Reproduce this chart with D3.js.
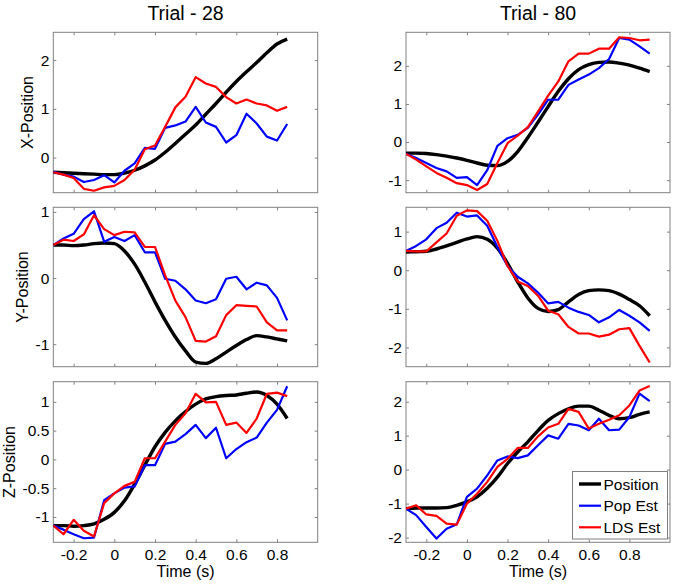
<!DOCTYPE html>
<html>
<head>
<meta charset="utf-8">
<script src="https://cdn.jsdelivr.net/npm/d3@7/dist/d3.min.js"></script>
<style>
  html, body { margin: 0; padding: 0; background: #fff; }
  svg text { font-family: "Liberation Sans", Arial, sans-serif; fill: #000; }
</style>
</head>
<body>
<svg id="chart" width="675" height="585"></svg>
<script>
// ---------- DATA ----------
const trialTitles = ["Trial - 28", "Trial - 80"];
const rowLabels = ["X-Position", "Y-Position", "Z-Position"];
const seriesNames = ["Position", "Pop Est", "LDS Est"];
const seriesColors = ["#000000", "#0000ff", "#ff0000"];

const time28 = [-0.3,-0.25,-0.2,-0.15,-0.1,-0.05,0,0.05,0.1,0.15,0.2,0.25,0.3,0.35,0.4,0.45,0.5,0.55,0.6,0.65,0.7,0.75,0.8,0.85];
const time80 = [-0.3,-0.25,-0.2,-0.15,-0.1,-0.05,0,0.05,0.1,0.15,0.2,0.25,0.3,0.35,0.4,0.45,0.5,0.55,0.6,0.65,0.7,0.75,0.8,0.85,0.9];

const x28Position = [-0.30,-0.31,-0.32,-0.33,-0.34,-0.35,-0.35,-0.32,-0.26,-0.17,-0.05,0.11,0.29,0.48,0.67,0.89,1.11,1.34,1.56,1.76,1.95,2.15,2.33,2.43];
const x28Pop = [-0.29,-0.35,-0.39,-0.50,-0.46,-0.36,-0.51,-0.27,-0.12,0.20,0.18,0.61,0.66,0.74,1.04,0.72,0.63,0.31,0.46,0.90,0.70,0.43,0.35,0.69];
const x28Lds = [-0.30,-0.35,-0.42,-0.64,-0.68,-0.61,-0.58,-0.46,-0.25,0.17,0.25,0.63,1.03,1.25,1.65,1.52,1.45,1.24,1.11,1.19,1.11,1.07,0.96,1.04];

const y28Position = [0.50,0.50,0.49,0.50,0.52,0.53,0.52,0.41,0.21,-0.06,-0.36,-0.64,-0.89,-1.10,-1.27,-1.29,-1.22,-1.12,-1.02,-0.93,-0.87,-0.89,-0.92,-0.95];
const y28Pop = [0.50,0.60,0.67,0.89,1.01,0.55,0.62,0.56,0.65,0.39,0.39,-0.01,-0.04,-0.17,-0.34,-0.38,-0.32,-0.01,0.02,-0.17,-0.07,-0.11,-0.30,-0.64];
const y28Lds = [0.50,0.58,0.56,0.66,0.95,0.74,0.65,0.70,0.69,0.47,0.47,0.04,-0.34,-0.59,-0.95,-0.96,-0.88,-0.56,-0.41,-0.42,-0.43,-0.67,-0.79,-0.79];

const z28Position = [-1.15,-1.15,-1.16,-1.15,-1.12,-1.04,-0.92,-0.72,-0.43,-0.10,0.22,0.47,0.67,0.83,0.96,1.05,1.09,1.11,1.12,1.15,1.17,1.11,0.96,0.71];
const z28Pop = [-1.15,-1.22,-1.30,-1.37,-1.36,-0.71,-0.59,-0.49,-0.47,-0.10,-0.10,0.27,0.31,0.44,0.60,0.37,0.55,0.02,0.18,0.30,0.38,0.64,0.86,1.27];
const z28Lds = [-1.15,-1.30,-1.05,-1.24,-1.34,-0.76,-0.59,-0.46,-0.39,0.02,0.02,0.31,0.60,0.80,1.14,0.99,1.00,0.60,0.64,0.46,0.71,1.14,1.16,1.10];

const x80Position = [-0.29,-0.29,-0.30,-0.33,-0.37,-0.42,-0.48,-0.55,-0.61,-0.62,-0.51,-0.25,0.12,0.52,0.93,1.33,1.66,1.90,2.03,2.09,2.10,2.07,2.02,1.94,1.85];
const x80Pop = [-0.31,-0.42,-0.55,-0.68,-0.77,-0.94,-0.92,-1.13,-0.74,-0.10,0.10,0.19,0.37,0.72,1.11,1.11,1.50,1.64,1.77,1.94,2.18,2.73,2.69,2.51,2.32];
const x80Lds = [-0.31,-0.46,-0.64,-0.81,-0.94,-1.08,-1.13,-1.26,-1.10,-0.55,-0.03,0.17,0.39,0.80,1.22,1.59,2.12,2.32,2.32,2.45,2.45,2.75,2.73,2.67,2.69];

const y80Position = [0.47,0.48,0.49,0.55,0.63,0.72,0.81,0.87,0.80,0.57,0.18,-0.30,-0.72,-0.99,-1.07,-1.02,-0.82,-0.63,-0.53,-0.51,-0.53,-0.62,-0.76,-0.92,-1.18];
const y80Pop = [0.50,0.63,0.80,1.09,1.23,1.49,1.39,1.42,1.15,0.60,0.11,-0.17,-0.34,-0.58,-0.86,-0.82,-0.97,-1.08,-1.16,-1.35,-1.22,-1.03,-1.18,-1.35,-1.57];
const y80Lds = [0.50,0.49,0.49,0.72,0.95,1.41,1.55,1.53,1.28,0.76,0.11,-0.29,-0.41,-0.66,-1.05,-1.14,-1.47,-1.64,-1.64,-1.72,-1.67,-1.53,-1.50,-1.96,-2.39];

const z80Position = [-1.15,-1.13,-1.13,-1.13,-1.12,-1.05,-0.95,-0.80,-0.55,-0.22,0.18,0.52,0.82,1.15,1.45,1.65,1.79,1.87,1.87,1.75,1.60,1.50,1.53,1.63,1.70];
const z80Pop = [-1.15,-1.34,-1.69,-2.03,-1.74,-1.61,-0.80,-0.56,-0.17,0.27,0.39,0.34,0.42,0.72,1.01,0.91,1.35,1.30,1.16,1.50,1.16,1.18,1.55,2.24,2.02];
const z80Lds = [-1.15,-1.05,-1.32,-1.36,-1.59,-1.62,-1.00,-0.71,-0.36,0.08,0.32,0.64,0.64,0.98,1.24,1.35,1.79,1.70,1.21,1.35,1.47,1.60,1.89,2.33,2.46];

// axis limits and ticks
const timeLimits = [-0.3, 1.0];
const timeTicks = [-0.2, 0, 0.2, 0.4, 0.6, 0.8];
const x28Limits = [-0.72, 2.57], x28Ticks = [0, 1, 2];
const y28Limits = [-1.34, 1.07], y28Ticks = [-1, 0, 1];
const z28Limits = [-1.44, 1.35], z28Ticks = [-1, -0.5, 0, 0.5, 1];
const x80Limits = [-1.33, 2.88], x80Ticks = [-1, 0, 1, 2];
const y80Limits = [-2.50, 1.63], y80Ticks = [-2, -1, 0, 1];
const z80Limits = [-2.14, 2.59], z80Ticks = [-2, -1, 0, 1, 2];

// ---------- LAYOUT ----------
const colX = [[53.3, 317.7], [406, 670]];
const rowY = [[32.3, 192.7], [207.3, 366.7], [381.7, 542.3]];
const frameColor = "#808080";
const tickFont = 15.5;

const panels = [
  {r:0,c:0,t:time28,s:[x28Position,x28Pop,x28Lds],lim:x28Limits,ticks:x28Ticks},
  {r:1,c:0,t:time28,s:[y28Position,y28Pop,y28Lds],lim:y28Limits,ticks:y28Ticks},
  {r:2,c:0,t:time28,s:[z28Position,z28Pop,z28Lds],lim:z28Limits,ticks:z28Ticks},
  {r:0,c:1,t:time80,s:[x80Position,x80Pop,x80Lds],lim:x80Limits,ticks:x80Ticks},
  {r:1,c:1,t:time80,s:[y80Position,y80Pop,y80Lds],lim:y80Limits,ticks:y80Ticks},
  {r:2,c:1,t:time80,s:[z80Position,z80Pop,z80Lds],lim:z80Limits,ticks:z80Ticks},
];

const svg = d3.select("#chart");
const defs = svg.append("defs");
const fmt = d => String(d);

panels.forEach((p, i) => {
  const [x0, x1] = colX[p.c];
  const [y0, y1] = rowY[p.r];
  const xs = d3.scaleLinear().domain(timeLimits).range([x0, x1]);
  const ys = d3.scaleLinear().domain(p.lim).range([y1, y0]);
  const g = svg.append("g");

  defs.append("clipPath").attr("id", "clip" + i)
    .append("rect").attr("x", x0).attr("y", y0).attr("width", x1 - x0).attr("height", y1 - y0);

  // axes (MATLAB style: ticks inside, mirrored on all sides)
  const axB = g.append("g").attr("transform", `translate(0,${y1})`)
    .call(d3.axisBottom(xs).tickValues(timeTicks).tickSizeInner(-3).tickSizeOuter(0).tickPadding(7).tickFormat(p.r === 2 ? fmt : () => ""));
  const axT = g.append("g").attr("transform", `translate(0,${y0})`)
    .call(d3.axisTop(xs).tickValues(timeTicks).tickSizeInner(-3).tickSizeOuter(0).tickFormat(() => ""));
  const axL = g.append("g").attr("transform", `translate(${x0},0)`)
    .call(d3.axisLeft(ys).tickValues(p.ticks).tickSizeInner(-3).tickSizeOuter(0).tickPadding(4).tickFormat(fmt));
  const axR = g.append("g").attr("transform", `translate(${x1},0)`)
    .call(d3.axisRight(ys).tickValues(p.ticks).tickSizeInner(-3).tickSizeOuter(0).tickFormat(() => ""));
  [axB, axT, axL, axR].forEach(a => {
    a.select(".domain").remove();
    a.selectAll("line").attr("stroke", frameColor);
    a.selectAll("text").attr("font-size", tickFont).attr("font-family", '"Liberation Sans", Arial, sans-serif').attr("fill", "#000");
  });
  axB.selectAll("text").attr("dy", "0.72em");

  // frame
  g.append("rect").attr("x", x0).attr("y", y0).attr("width", x1 - x0).attr("height", y1 - y0)
    .attr("fill", "none").attr("stroke", frameColor).attr("stroke-width", 1);

  // lines
  const lg = g.append("g").attr("clip-path", `url(#clip${i})`);
  p.s.forEach((vals, k) => {
    const pts = p.t.map((t, j) => [t, vals[j]]);
    const line = d3.line().x(d => xs(d[0])).y(d => ys(d[1]))
      .curve(k === 0 ? d3.curveMonotoneX : d3.curveLinear);
    lg.append("path").datum(pts).attr("d", line)
      .attr("fill", "none").attr("stroke", seriesColors[k])
      .attr("stroke-width", k === 0 ? 3.4 : 2.2)
      .attr("stroke-linejoin", "round").attr("stroke-linecap", "butt");
  });

  // y label for left column
  if (p.c === 0) {
    let minX = Infinity;
    axL.selectAll("text").each(function() { minX = Math.min(minX, this.getBBox().x + x0); });
    const lx = minX - 8;
    g.append("text").attr("transform", `translate(${lx},${(y0 + y1) / 2}) rotate(-90)`)
      .attr("text-anchor", "middle").attr("font-size", 16).text(rowLabels[p.r]);
  }
  // title
  if (p.r === 0) {
    svg.append("text").attr("x", (x0 + x1) / 2).attr("y", 19.5)
      .attr("text-anchor", "middle").attr("font-size", 19.5).text(trialTitles[p.c]);
  }
  // x label
  if (p.r === 2) {
    svg.append("text").attr("x", (x0 + x1) / 2).attr("y", y1 + 34.5)
      .attr("text-anchor", "middle").attr("font-size", 16).text("Time (s)");
  }
  // legend
  if (p.r === 2 && p.c === 1) {
    const lgx = 572.5, lgy = 471.5, lgw = 95, lgh = 67.5;
    const leg = svg.append("g");
    leg.append("rect").attr("x", lgx).attr("y", lgy).attr("width", lgw).attr("height", lgh)
      .attr("fill", "#fff").attr("stroke", frameColor).attr("stroke-width", 1);
    const rowsY = [484, 505.7, 527.3];
    seriesNames.forEach((name, k) => {
      leg.append("line").attr("x1", 579).attr("x2", 601).attr("y1", rowsY[k]).attr("y2", rowsY[k])
        .attr("stroke", seriesColors[k]).attr("stroke-width", k === 0 ? 3.4 : 2.2);
      leg.append("text").attr("x", 603.5).attr("y", rowsY[k]).attr("dy", "0.36em")
        .attr("font-size", 15.5).text(name);
    });
  }
});
</script>
</body>
</html>
